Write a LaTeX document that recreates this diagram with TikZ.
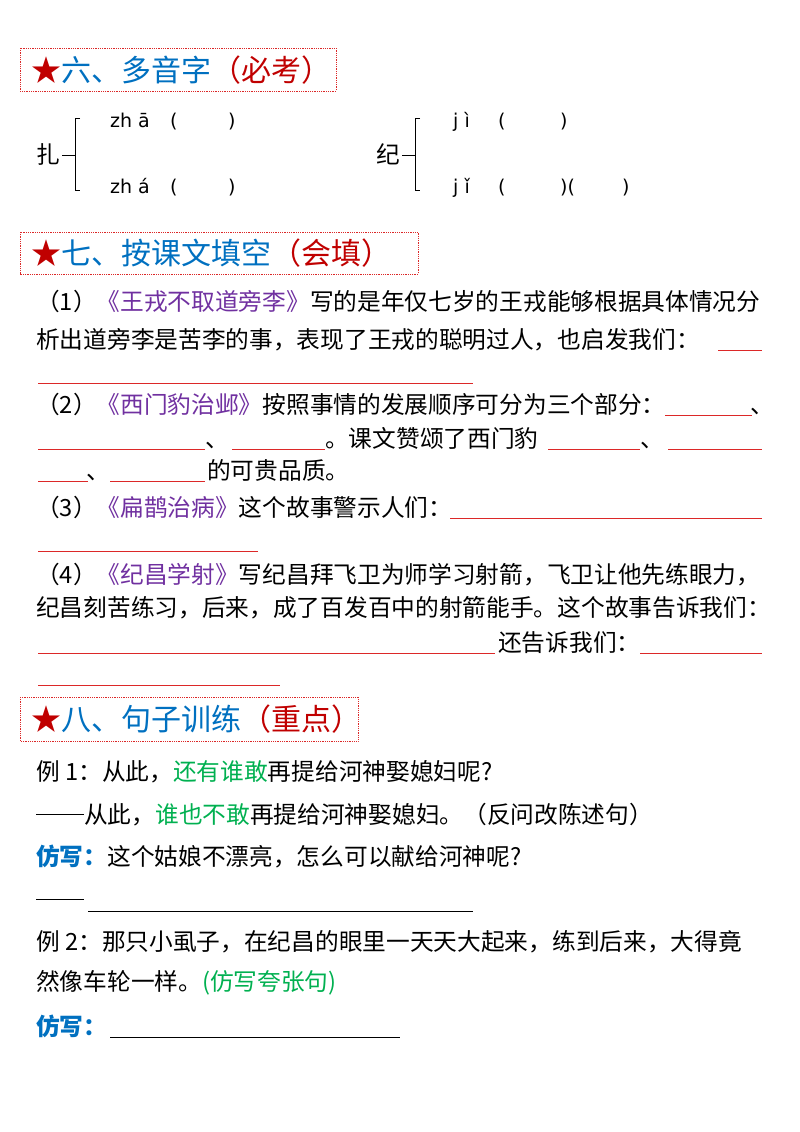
\documentclass[tikz,border=0pt]{standalone}
\usepackage{fontspec}
\setmainfont{Noto Sans CJK SC}
\newfontfamily\pyfont{DejaVu Sans}
\definecolor{tblue}{RGB}{0,112,192}
\definecolor{tred}{RGB}{192,0,0}
\definecolor{tpurple}{RGB}{112,48,160}
\definecolor{tgreen}{RGB}{0,176,80}
\definecolor{lred}{RGB}{220,40,40}
\begin{document}
\begin{tikzpicture}[x=1pt,y=-1pt,
  tbox/.style={draw=lred,densely dotted,line width=0.8pt},
  ttl/.style={anchor=west,inner sep=0pt,font=\fontsize{30}{31}\selectfont,text=tblue},
  tx/.style={anchor=base west,inner sep=0pt,font=\fontsize{23.7}{25}\selectfont},
  py/.style={anchor=base west,inner sep=0pt,font=\pyfont\fontsize{19}{20}\selectfont},
  ul/.style={draw=lred,line width=1pt},
  br/.style={draw=black,line width=0.8pt}]
\useasboundingbox (0,0) rectangle (800,1132);
% section 6
\draw[tbox] (20,48) rectangle (336,91);
\node[ttl] (t6) at (31,70) {\textcolor{tred}{★}六、多音字\textcolor{tred}{（必考）}};
\node[tx] (zha) at (36,163) {扎};
\draw[br] (80,118) -- (75,118) -- (75,190) -- (80,190);
\draw[br] (62,155) -- (75,155);
\node[py] (p1) at (110,127) {zh ā};\node[py] (q1) at (170,127) {(};\node[py] (r1) at (228,127) {)};
\node[py] (p2) at (110,193) {zh á};\node[py] (q2) at (170,193) {(};\node[py] (r2) at (228,193) {)};
\node[tx] (ji) at (376,163) {纪};
\draw[br] (420,118) -- (415,118) -- (415,190) -- (420,190);
\draw[br] (402,155) -- (415,155);
\node[py] (p3) at (453,127) {j ì};\node[py] (q3) at (498,127) {(};\node[py] (r3) at (560,127) {)};
\node[py] (p4) at (453,193) {j ǐ};\node[py] (q4) at (498,193) {(};\node[py] (r4) at (560,193) {)(};\node[py] (s4) at (622,193) {)};
% section 7
\draw[tbox] (20,232) rectangle (418,274);
\node[ttl] (t7) at (31,253) {\textcolor{tred}{★}七、按课文填空\textcolor{tred}{（会填）}};
\node[tx] (l1) at (36,310) {（1）\textcolor{tpurple}{《王戎不取道旁李》}写的是年仅七岁的王戎能够根据具体情况分};
\node[tx] (l2) at (36,348) {析出道旁李是苦李的事，表现了王戎的聪明过人，也启发我们：};
\draw[ul] (718,350) -- (762,350);
\draw[ul] (38,383) -- (473,383);
\node[tx] (l3) at (36,413) {（2）\textcolor{tpurple}{《西门豹治邺》}按照事情的发展顺序可分为三个部分：};
\draw[ul] (665,415) -- (752,415); \node[tx] at (750,413) {、};
\draw[ul] (38,449) -- (205,449); \node[tx] at (205,447) {、};
\draw[ul] (232,449) -- (325,449);
\node[tx] (l4) at (325,447) {。课文赞颂了西门豹};
\draw[ul] (548,449) -- (640,449); \node[tx] at (640,447) {、};
\draw[ul] (668,449) -- (762,449);
\draw[ul] (38,481) -- (88,481); \node[tx] at (86,479) {、};
\draw[ul] (110,481) -- (205,481);
\node[tx] (l5) at (207,479) {的可贵品质。};
\node[tx] (l6) at (36,516) {（3）\textcolor{tpurple}{《扁鹊治病》}这个故事警示人们：};
\draw[ul] (450,518) -- (762,518);
\draw[ul] (38,551) -- (258,551);
\node[tx] (l7) at (36,583) {（4）\textcolor{tpurple}{《纪昌学射》}写纪昌拜飞卫为师学习射箭，飞卫让他先练眼力，};
\node[tx] (l8) at (36,616) {纪昌刻苦练习，后来，成了百发百中的射箭能手。这个故事告诉我们：};
\draw[ul] (38,653) -- (495,653);
\node[tx] (l9) at (498,651) {还告诉我们：};
\draw[ul] (640,653) -- (762,653);
\draw[ul] (38,685) -- (280,685);
% section 8
\draw[tbox] (20,697) rectangle (358,741);
\node[ttl] (t8) at (31,719) {\textcolor{tred}{★}八、句子训练\textcolor{tred}{（重点）}};
\node[tx] (e1) at (36,780) {例 1：从此，\textcolor{tgreen}{还有谁敢}再提给河神娶媳妇呢?};
\node[tx] (e2) at (36,823) {\rule[8pt]{48pt}{1pt}从此，\textcolor{tgreen}{谁也不敢}再提给河神娶媳妇。（反问改陈述句）};
\node[tx] (e3) at (36,865) {\textcolor{tblue}{\bfseries 仿写：}这个姑娘不漂亮，怎么可以献给河神呢?};
\node[tx] (e4) at (36,908) {\rule[8pt]{48pt}{1pt}};
\draw[draw=black,line width=0.8pt] (88,911) -- (473,911);
\node[tx] (e5) at (36,950) {例 2：那只小虱子，在纪昌的眼里一天天大起来，练到后来，大得竟};
\node[tx] (e6) at (36,990) {然像车轮一样。\textcolor{tgreen}{(仿写夸张句)}};
\node[tx] (e7) at (36,1035) {\textcolor{tblue}{\bfseries 仿写：}};
\draw[draw=black,line width=0.8pt] (110,1037) -- (400,1037);
\end{tikzpicture}
\end{document}
